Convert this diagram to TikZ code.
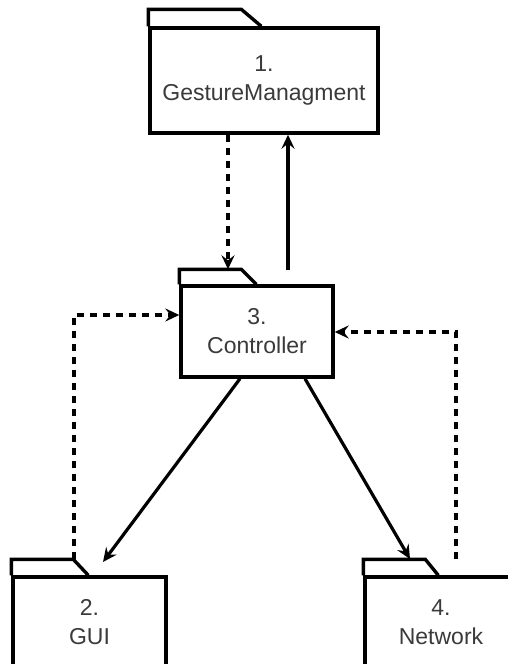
\documentclass[tikz,border=0pt]{standalone}
\usepackage{fontspec}
\setmainfont{Liberation Sans}
\usetikzlibrary{arrows.meta}
\definecolor{txt}{HTML}{3A3A3A}
\tikzset{
  pkg/.style={draw=black, line width=3.4pt, fill=white, inner sep=0pt, align=center,
    font=\fontsize{23pt}{29pt}\selectfont, text=txt},
  tabline/.style={draw=black, line width=3.4pt},
  dep/.style={line width=3.2pt, dash pattern=on 7pt off 6pt, -{Stealth[length=14pt,width=13pt,inset=5pt]}},
  use/.style={line width=3.2pt, -{Stealth[length=14pt,width=13pt,inset=5pt]}}
}
\begin{document}
\begin{tikzpicture}[x=1pt,y=1pt]
\useasboundingbox (0,0) rectangle (508,-664);
% packages
\node[pkg, minimum width=228pt, minimum height=105pt] (gm) at (264,-80.5) {1.\\GestureManagment};
\draw[tabline] (gm.north west) |- ++(93,17) coordinate (gmtab) -- ++(20,-17);
\node[pkg, minimum width=152pt, minimum height=91pt] (ctrl) at (257,-331.5) {3.\\Controller};
\draw[tabline] (ctrl.north west) |- ++(62,15) coordinate (ctrltab) -- ++(15,-15);
\node[pkg, minimum width=153pt, minimum height=90pt] (gui) at (89.5,-622) {2.\\GUI};
\draw[tabline] (gui.north west) |- ++(62,16) coordinate (guitab) -- ++(15,-16);
\node[pkg, minimum width=152pt, minimum height=90pt] (net) at (441,-622) {4.\\Network};
\draw[tabline] (net.north west) |- ++(62,16) coordinate (nettab) -- ++(13,-16);
% helper coordinates
\coordinate (c1) at (228,0);
\coordinate (c2) at (288,-270);
\coordinate (g1) at (74,-315);
\coordinate (n1) at (456,-332);
\coordinate (d1) at (240,0);
\coordinate (d2) at (305,0);
\coordinate (t1) at (103,-562);
\coordinate (t2) at (410,-559);
% connectors
\draw[dep] (gm.south -| c1) -- (ctrltab -| c1);
\draw[use] (c2) -- (gm.south -| c2);
\draw[dep] (guitab -| g1) -- (g1) -- (ctrl.west |- g1);
\draw[dep] (nettab -| n1) -- (n1) -- (ctrl.east |- n1);
\draw[use] (ctrl.south -| d1) -- (t1);
\draw[use] (ctrl.south -| d2) -- (t2);
\end{tikzpicture}
\end{document}
